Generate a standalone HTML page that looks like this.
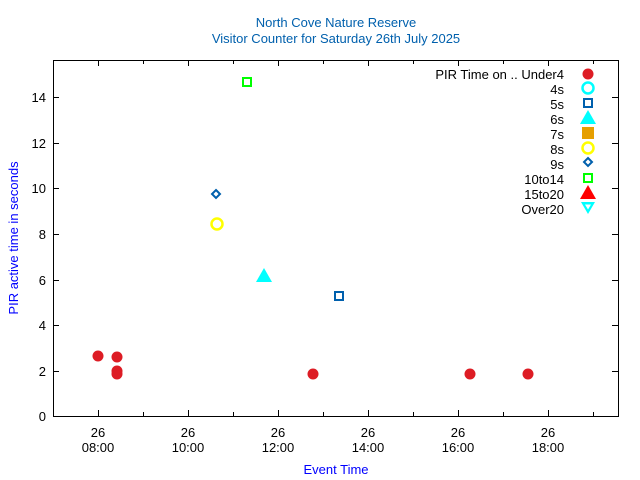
<!DOCTYPE html>
<html><head><style>body{margin:0;background:#fff}svg{display:block}text{font-family:"Liberation Sans",sans-serif}</style></head><body>
<svg width="640" height="480" xmlns="http://www.w3.org/2000/svg">
<rect width="640" height="480" fill="#fff"/>
<text x="336" y="27" font-size="13" fill="#0060ad" text-anchor="middle">North Cove Nature Reserve</text>
<text x="336" y="43" font-size="13" fill="#0060ad" text-anchor="middle">Visitor Counter for Saturday 26th July 2025</text>
<g stroke="#000" stroke-width="1" fill="none">
<rect x="53.5" y="60.5" width="565" height="356"/>
<path d="M53 371.5h6M53 325.5h6M53 280.5h6M53 234.5h6M53 188.5h6M53 143.5h6M53 97.5h6
M618 371.5h-6M618 325.5h-6M618 280.5h-6M618 234.5h-6M618 188.5h-6M618 143.5h-6M618 97.5h-6
M98.5 416v-6M188.5 416v-6M278.5 416v-6M368.5 416v-6M458.5 416v-6M548.5 416v-6
M143.5 416v-4M233.5 416v-4M323.5 416v-4M413.5 416v-4M503.5 416v-4M593.5 416v-4
M98.5 60v6M188.5 60v6M278.5 60v6M368.5 60v6M458.5 60v6M548.5 60v6
M143.5 60v4M233.5 60v4M323.5 60v4M413.5 60v4M503.5 60v4M593.5 60v4"/>
</g>
<g font-size="13" fill="#000" text-anchor="end">
<text x="46" y="421">0</text><text x="46" y="376">2</text><text x="46" y="330">4</text><text x="46" y="285">6</text><text x="46" y="239">8</text><text x="46" y="193">10</text><text x="46" y="148">12</text><text x="46" y="102">14</text>
</g>
<g font-size="13" fill="#000" text-anchor="middle">
<text x="98" y="437">26</text><text x="98" y="452">08:00</text>
<text x="188" y="437">26</text><text x="188" y="452">10:00</text>
<text x="278" y="437">26</text><text x="278" y="452">12:00</text>
<text x="368" y="437">26</text><text x="368" y="452">14:00</text>
<text x="458" y="437">26</text><text x="458" y="452">16:00</text>
<text x="548" y="437">26</text><text x="548" y="452">18:00</text>
</g>
<text x="336" y="474" font-size="13" fill="#0000ff" text-anchor="middle">Event Time</text>
<text transform="translate(18,238) rotate(-90)" font-size="13" fill="#0000ff" text-anchor="middle">PIR active time in seconds</text>
<g fill="#dd1c24">
<circle cx="98" cy="356" r="5.5"/><circle cx="117" cy="357" r="5.5"/><circle cx="117" cy="371" r="5.5"/><circle cx="117" cy="374" r="5.5"/><circle cx="313" cy="374" r="5.5"/><circle cx="470" cy="374" r="5.5"/><circle cx="528" cy="374" r="5.5"/>
</g>
<circle cx="217" cy="224" r="5.5" fill="none" stroke="#ffff00" stroke-width="2.5"/>
<path d="M216 190l4 4-4 4-4-4z" fill="none" stroke="#0060ad" stroke-width="2"/>
<rect x="243" y="78" width="8" height="8" fill="none" stroke="#00ff00" stroke-width="2"/>
<path d="M264 268l8 14h-16z" fill="#00ffff"/>
<rect x="335" y="292" width="8" height="8" fill="none" stroke="#0060ad" stroke-width="2"/>
<g font-size="13" fill="#000" text-anchor="end">
<text x="564" y="79">PIR Time on .. Under4</text><text x="564" y="94">4s</text><text x="564" y="109">5s</text><text x="564" y="124">6s</text><text x="564" y="139">7s</text><text x="564" y="154">8s</text><text x="564" y="169">9s</text><text x="564" y="184">10to14</text><text x="564" y="199">15to20</text><text x="564" y="214">Over20</text>
</g>
<circle cx="588" cy="74" r="5.5" fill="#dd1c24"/>
<circle cx="588" cy="88" r="5.5" fill="none" stroke="#00ffff" stroke-width="2.5"/>
<rect x="584" y="99" width="8" height="8" fill="none" stroke="#0060ad" stroke-width="2"/>
<path d="M588 110l8 14h-16z" fill="#00ffff"/>
<rect x="582" y="127" width="12" height="12" fill="#e69f00"/>
<circle cx="588" cy="148" r="5.5" fill="none" stroke="#ffff00" stroke-width="2.5"/>
<path d="M588 158l4 4-4 4-4-4z" fill="none" stroke="#0060ad" stroke-width="2"/>
<rect x="584" y="174" width="8" height="8" fill="none" stroke="#00ff00" stroke-width="2"/>
<path d="M588 185l8 14h-16z" fill="#ff0000"/>
<path d="M581 202h14l-7 12z M585 204.5h6l-3 5z" fill="#00ffff" fill-rule="evenodd"/>
</svg>
</body></html>
